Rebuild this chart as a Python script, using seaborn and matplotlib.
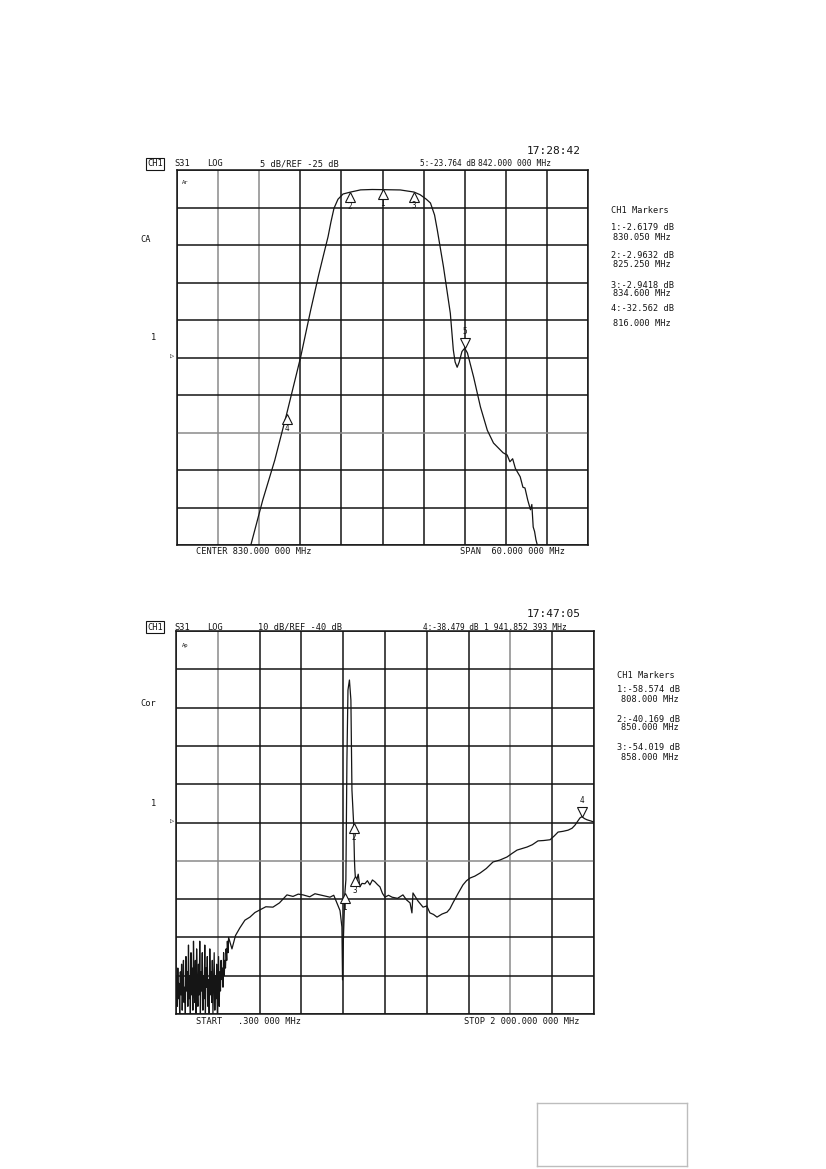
import numpy as np
import pandas as pd
import matplotlib
matplotlib.use("Agg")
import matplotlib.pyplot as plt
import seaborn as sns
from matplotlib.transforms import offset_copy

# ---------------- data: top chart (S31, 5 dB/div, REF -25 dB) ----------------
top_freq = [810.78, 812.52, 814.27, 816.0, 818.06, 819.51, 820.68, 821.40, 822.05,
            822.48, 822.92, 823.50, 824.24, 825.25, 826.8, 828.5, 830.05, 832.6, 834.6,
            835.5, 836.4, 837.0, 837.6, 838.0, 838.9, 839.9, 840.34, 840.6, 840.9,
            841.2, 841.6, 842.0, 842.4, 843.3, 844.3, 845.3, 846.2, 847.6, 848.2,
            848.6, 849.0, 849.4, 850.1, 850.5, 850.8, 851.2, 851.6, 851.8, 852.0,
            852.2, 852.4, 852.6]
top_db = [-50.0, -44.0, -38.7, -32.56, -24.9, -18.7, -14.0, -11.3, -8.9,
          -6.9, -5.1, -3.9, -3.2, -2.96, -2.65, -2.6, -2.62, -2.66, -2.94,
          -3.3, -3.9, -4.4, -6.0, -8.0, -12.9, -19.1, -24.0, -25.6, -26.3,
          -25.6, -24.2, -23.76, -24.4, -27.6, -31.6, -34.7, -36.4, -37.7, -38.0,
          -38.9, -38.5, -39.8, -40.9, -42.3, -42.4, -44.0, -45.3, -44.6, -47.6,
          -48.2, -49.3, -50.0]
top_mk_num = ["1", "2", "3", "4"]
top_mk_freq = [830.05, 825.25, 834.6, 816.0]
top_mk_db = [-2.6179, -2.9632, -2.9418, -32.562]
top_act_num = ["5"]
top_act_freq = [842.0]
top_act_db = [-23.764]

# ---------------- data: bottom chart (S31, 10 dB/div, REF -40 dB) ----------------
noise_freq = [0.3, 3, 6, 9, 12, 15, 18, 21, 24, 27, 30, 33, 36, 39, 42, 45, 48, 51, 54,
              57, 60, 63, 66, 69, 72, 75, 78, 81, 84, 87, 90, 93, 96, 99, 102, 105, 108,
              111, 114, 117, 120, 123, 126, 129, 132, 135, 138, 141, 144, 147, 150, 153,
              156, 159, 162, 165, 168, 171, 174, 177, 180, 183, 186, 189, 192, 195, 198,
              201, 204, 207, 210, 213, 216, 219, 222, 225, 228, 231, 234, 237, 240, 243,
              246, 249, 252]
noise_db = [-84, -80, -88, -78, -86, -82, -90, -79, -85, -77, -89, -81, -76, -87, -83,
            -90, -75, -84, -79, -88, -72, -86, -80, -90, -74, -85, -78, -89, -71, -83,
            -87, -76, -90, -73, -82, -88, -77, -85, -71, -90, -79, -84, -74, -89, -80,
            -86, -72, -90, -78, -83, -75, -88, -81, -90, -73, -85, -79, -87, -76, -90,
            -82, -74, -89, -80, -86, -77, -90, -83, -75, -88, -79, -84, -76, -81, -78,
            -83, -74, -80, -76, -78, -73, -76, -71, -74, -70]
sweep_freq = [268, 285, 306, 330, 354, 378, 402, 430, 464, 495, 531, 560, 585, 608, 640,
              665, 689, 715, 737, 755, 770, 785, 794, 797, 801, 808, 813, 818, 823, 830,
              837, 842, 850, 854, 856, 858, 865, 872, 880, 890, 904, 916, 928, 940, 952,
              964, 976, 988, 1000, 1017, 1034, 1060, 1086, 1103, 1120, 1129, 1134, 1158,
              1182, 1200, 1215, 1232, 1249, 1273, 1297, 1311, 1325, 1350, 1373, 1390,
              1407, 1430, 1455, 1485, 1517, 1550, 1584, 1610, 1632, 1656, 1680, 1705,
              1732, 1760, 1790, 1810, 1828, 1852, 1876, 1895, 1909, 1933, 1942, 1955,
              1967, 1985, 2000]
sweep_db = [-73.0, -69.5, -67.5, -65.5, -64.7, -63.5, -62.8, -62.0, -62.1, -61.0, -58.9,
            -59.3, -58.7, -58.9, -59.4, -58.6, -58.9, -59.2, -59.5, -59.0, -61.0, -63.0,
            -67.3, -81.1, -70.7, -58.57, -55.0, -23.7, -5.4, -2.8, -8.0, -31.5, -40.17,
            -49.8, -52.4, -54.02, -55.0, -53.5, -56.8, -55.9, -56.0, -55.2, -56.3, -55.0,
            -55.5, -56.2, -56.8, -58.5, -59.5, -59.0, -59.5, -59.8, -58.9, -60.2, -61.0,
            -63.6, -58.4, -60.5, -62.1, -61.8, -63.6, -64.0, -64.7, -63.9, -63.4, -62.5,
            -61.0, -58.5, -56.3, -55.2, -54.5, -54.0, -53.2, -52.0, -50.3, -49.8, -49.0,
            -48.0, -47.2, -46.8, -46.4, -45.8, -44.8, -44.7, -44.5, -43.5, -42.5, -42.3,
            -42.0, -41.5, -40.7, -38.8, -38.48, -39.0, -39.3, -39.6, -39.9]
bot_mk_num = ["1", "2", "3"]
bot_mk_freq = [808.0, 850.0, 858.0]
bot_mk_db = [-58.574, -40.169, -54.019]
bot_act_num = ["4"]
bot_act_freq = [1941.852]
bot_act_db = [-38.479]

top_df = pd.DataFrame({"freq": top_freq, "db": top_db})
bot_df = pd.DataFrame({"freq": noise_freq + sweep_freq, "db": noise_db + sweep_db})

# ---------------- figure ----------------
W, H = 826, 1169
sns.set_style("white")
plt.rcParams["font.family"] = ["DejaVu Sans Mono", "DejaVu Sans"]
fig = plt.figure(figsize=(W / 100, H / 100), dpi=100)
INK = "#151515"


def px_axes(l, t, r, b):
    return fig.add_axes([l / W, 1 - b / H, (r - l) / W, (b - t) / H])


def T(x, y, s, size=6.2, **kw):
    kw.setdefault("ha", "left")
    kw.setdefault("va", "center")
    fig.text(x / W, 1 - y / H, s, fontsize=size, color=INK, **kw)


def setup(ax, xlim, ylim, gray_v, gray_h):
    ax.set_xlim(*xlim)
    ax.set_ylim(*ylim)
    ax.set_xticks(np.linspace(xlim[0], xlim[1], 11))
    ax.set_yticks(np.linspace(ylim[0], ylim[1], 11))
    ax.tick_params(length=0, labelbottom=False, labelleft=False)
    ax.grid(True, color=INK, lw=1.1)
    for i, l in enumerate(ax.get_xgridlines()):
        if i in gray_v:
            l.set_color("#8a8a8a")
    for i, l in enumerate(ax.get_ygridlines()):
        if i in gray_h:
            l.set_color("#8a8a8a")
    for s in ax.spines.values():
        s.set_color(INK)
        s.set_linewidth(1.1)
    ax.set_xlabel("")
    ax.set_ylabel("")


def markers(ax, nums, fr, db, active=False):
    ms = 7
    if active:
        tr = offset_copy(ax.transData, fig=fig, x=0, y=ms / 2, units="points")
        mk, dy = "v", 12
    else:
        tr = offset_copy(ax.transData, fig=fig, x=0, y=-ms / 2, units="points")
        mk, dy = "^", -10
    ax.plot(fr, db, ls="none", marker=mk, ms=ms, mfc="white", mec=INK, mew=0.8,
            transform=tr, clip_on=False, zorder=5)
    for n, f, d in zip(nums, fr, db):
        ax.annotate(n, (f, d), xytext=(0, dy), textcoords="offset points",
                    ha="center", va="center", fontsize=5.5, color=INK, zorder=6)


# ---- top chart ----
ax1 = px_axes(177, 170, 588, 545)
sns.lineplot(data=top_df, x="freq", y="db", ax=ax1, color=INK, lw=0.9,
             estimator=None, sort=False)
setup(ax1, (800, 860), (-50, 0), gray_v=(1, 2), gray_h=(3,))
markers(ax1, top_mk_num, top_mk_freq, top_mk_db)
markers(ax1, top_act_num, top_act_freq, top_act_db, active=True)

T(527, 151, "17:28:42", size=8)
T(147, 164, "CH1", bbox=dict(boxstyle="square,pad=0.15", fc="white", ec=INK, lw=0.8))
T(174, 164, "S31")
T(207, 164, "LOG")
T(260, 164, "5 dB/REF -25 dB")
T(420, 164, "5:-23.764 dB", size=5.6)
T(478, 164, "842.000 000 MHz", size=5.8)
T(182, 183, "Ar", size=4)
T(140, 240, "CA")
T(151, 338, "1")
T(170, 357, "\u25b7", size=5)
T(196, 552, "CENTER 830.000 000 MHz")
T(460, 552, "SPAN  60.000 000 MHz")
T(611, 211, "CH1 Markers")
T(611, 227, "1:-2.6179 dB")
T(613, 237, "830.050 MHz")
T(611, 256, "2:-2.9632 dB")
T(613, 265, "825.250 MHz")
T(611, 285, "3:-2.9418 dB")
T(613, 294, "834.600 MHz")
T(611, 309, "4:-32.562 dB")
T(613, 324, "816.000 MHz")

# ---- bottom chart ----
ax2 = px_axes(176, 631, 594, 1014)
sns.lineplot(data=bot_df, x="freq", y="db", ax=ax2, color=INK, lw=0.9,
             estimator=None, sort=False)
setup(ax2, (0.3, 2000), (-90, 10), gray_v=(1, 8), gray_h=(4,))
markers(ax2, bot_mk_num, bot_mk_freq, bot_mk_db)
markers(ax2, bot_act_num, bot_act_freq, bot_act_db, active=True)

T(527, 614, "17:47:05", size=8)
T(147, 627, "CH1", bbox=dict(boxstyle="square,pad=0.15", fc="white", ec=INK, lw=0.8))
T(174, 627, "S31")
T(207, 627, "LOG")
T(258, 627, "10 dB/REF -40 dB")
T(423, 627, "4:-38.479 dB", size=5.6)
T(484, 627, "1 941.852 393 MHz", size=5.8)
T(182, 645, "Ap", size=4)
T(140, 704, "Cor")
T(151, 803, "1")
T(170, 822, "\u25b7", size=5)
T(196, 1021, "START   .300 000 MHz")
T(464, 1021, "STOP 2 000.000 000 MHz")
T(617, 675, "CH1 Markers")
T(617, 690, "1:-58.574 dB")
T(621, 699, "808.000 MHz")
T(617, 719, "2:-40.169 dB")
T(621, 728, "850.000 MHz")
T(617, 748, "3:-54.019 dB")
T(621, 757, "858.000 MHz")

# empty stamp box, lower right
box = fig.add_axes([537 / W, 1 - 1166 / H, 150 / W, 63 / H])
box.set_xticks([])
box.set_yticks([])
for s in box.spines.values():
    s.set_color("#bdbdbd")
    s.set_linewidth(1.0)

fig.savefig("out.png", dpi=100)
